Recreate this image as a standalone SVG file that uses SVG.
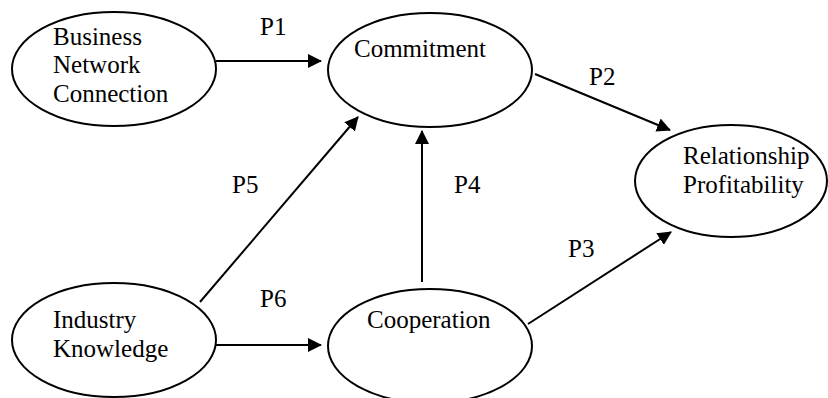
<svg xmlns="http://www.w3.org/2000/svg" width="828" height="398" viewBox="0 0 828 398">
<defs>
<style>
.node ellipse{fill:#fff;stroke:#000;stroke-width:2}
text{font-family:"Liberation Serif","Times New Roman",serif;font-size:25px;fill:#000}
.edges line{stroke:#000;stroke-width:2;marker-end:url(#ah)}
</style>
<marker id="ah" markerUnits="userSpaceOnUse" markerWidth="14" markerHeight="14" refX="13" refY="7" orient="auto" viewBox="0 0 14 14">
<path d="M0,0 L14,7 L0,14 z" fill="#000"/>
</marker>
</defs>
<rect width="828" height="398" fill="#fff"/>
<g id="business" class="node">
<ellipse cx="114" cy="69" rx="102" ry="57"/>
<text x="53" y="45">Business</text>
<text x="53" y="73">Network</text>
<text x="53" y="102">Connection</text>
</g>
<g id="commitment" class="node">
<ellipse cx="430" cy="70" rx="102" ry="57"/>
<text x="354" y="57">Commitment</text>
</g>
<g id="relationship" class="node">
<ellipse cx="731" cy="181" rx="96" ry="56"/>
<text x="683" y="164">Relationship</text>
<text x="683" y="193">Profitability</text>
</g>
<g id="industry" class="node">
<ellipse cx="114" cy="340" rx="102" ry="57"/>
<text x="53" y="328">Industry</text>
<text x="53" y="357">Knowledge</text>
</g>
<g id="cooperation" class="node">
<ellipse cx="430" cy="346" rx="102" ry="57"/>
<text x="367" y="328">Cooperation</text>
</g>
<g class="edges">
<line x1="216" y1="61" x2="321" y2="61"/>
<line x1="535" y1="74" x2="670" y2="130"/>
<line x1="422" y1="282" x2="422" y2="131"/>
<line x1="200" y1="302" x2="358" y2="117"/>
<line x1="216" y1="345" x2="321" y2="345"/>
<line x1="528" y1="324" x2="671" y2="232"/>
</g>
<g id="labels">
<text x="260" y="35">P1</text>
<text x="589" y="85">P2</text>
<text x="568" y="257">P3</text>
<text x="454" y="193">P4</text>
<text x="232" y="193">P5</text>
<text x="260" y="307">P6</text>
</g>
</svg>
